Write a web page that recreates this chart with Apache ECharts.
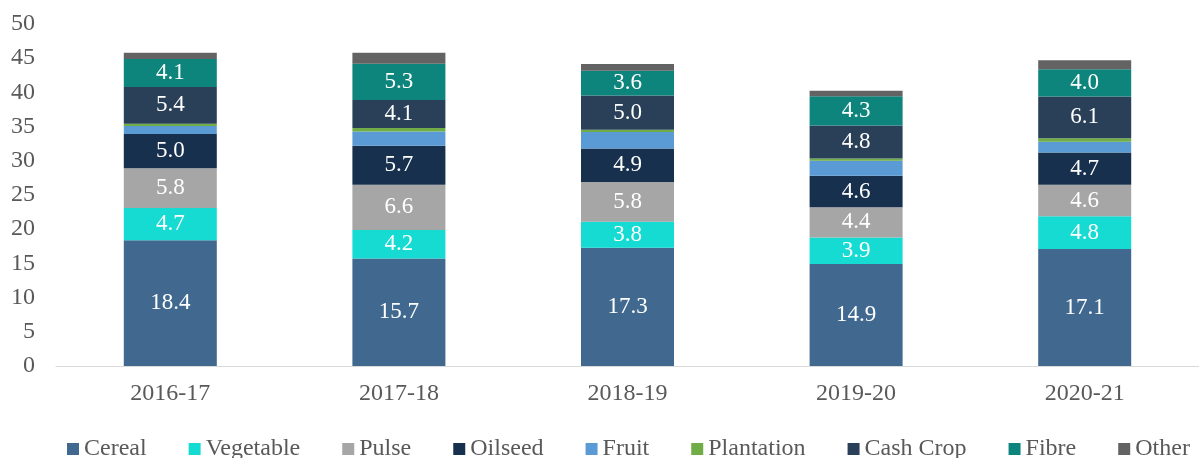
<!DOCTYPE html>
<html>
<head>
<meta charset="utf-8">
<script src="https://cdn.jsdelivr.net/npm/echarts@6/dist/echarts.min.js"></script>
<style>
  html, body { margin: 0; padding: 0; background: #fff; }
  #chart { width: 1199px; height: 458px; }
</style>
</head>
<body>
<div id="chart"></div>
<script>
const years = ['2016-17', '2017-18', '2018-19', '2019-20', '2020-21']

const cereal = [18.4, 15.7, 17.3, 14.9, 17.1]
const vegetable = [4.7, 4.2, 3.8, 3.9, 4.8]
const pulse = [5.8, 6.6, 5.8, 4.4, 4.6]
const oilseed = [5.0, 5.7, 4.9, 4.6, 4.7]
const fruit = [1.2, 2.1, 2.4, 2.2, 1.6]
const plantation = [0.3, 0.5, 0.35, 0.35, 0.5]
const cashCrop = [5.4, 4.1, 5.0, 4.8, 6.1]
const fibre = [4.1, 5.3, 3.6, 4.3, 4.0]
const other = [0.9, 1.6, 1.0, 0.8, 1.3]

const font = '"Liberation Serif", "Times New Roman", serif'

const chart = echarts.init(document.getElementById('chart'))

function makeSeries(name, data, color, showLabel) {
  return {
    name: name,
    type: 'bar',
    stack: 'total',
    barWidth: 93,
    data: data,
    itemStyle: { color: color },
    label: {
      show: showLabel,
      position: 'inside',
      color: '#fff',
      fontFamily: font,
      fontSize: 23,
      formatter: p => p.value.toFixed(1)
    },
    emphasis: { disabled: true }
  }
}

chart.setOption({
  animation: false,
  grid: { left: 56, right: -14, top: 24, bottom: 92 },
  legend: {
    left: 62,
    top: 432,
    width: 1300,
    itemWidth: 12,
    itemHeight: 12,
    itemGap: 42,
    icon: 'rect',
    textStyle: { fontFamily: font, fontSize: 24, color: '#595959' }
  },
  xAxis: {
    type: 'category',
    data: years,
    axisLine: { lineStyle: { color: '#d9d9d9', width: 1 } },
    axisTick: { show: false },
    axisLabel: { fontFamily: font, fontSize: 24, color: '#595959', margin: 16 }
  },
  yAxis: {
    type: 'value',
    min: 0,
    max: 50,
    interval: 5,
    splitLine: { show: false },
    axisLine: { show: false },
    axisTick: { show: false },
    axisLabel: { fontFamily: font, fontSize: 24, color: '#595959', margin: 21 }
  },
  series: [
    makeSeries('Cereal', cereal, '#41698f', true),
    makeSeries('Vegetable', vegetable, '#16dbd2', true),
    makeSeries('Pulse', pulse, '#a6a6a6', true),
    makeSeries('Oilseed', oilseed, '#17304d', true),
    makeSeries('Fruit', fruit, '#5b9bd5', false),
    makeSeries('Plantation', plantation, '#70ad47', false),
    makeSeries('Cash Crop', cashCrop, '#2a4058', true),
    makeSeries('Fibre', fibre, '#0e857c', true),
    makeSeries('Other', other, '#636363', false)
  ]
})
</script>
</body>
</html>
